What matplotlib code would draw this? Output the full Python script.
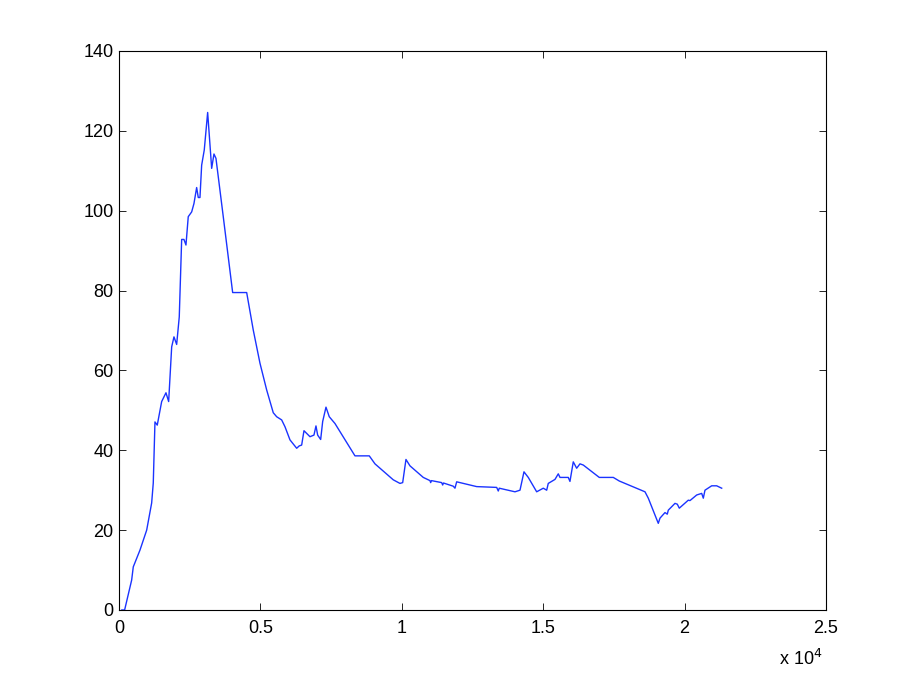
import numpy as np
import matplotlib
matplotlib.use('Agg')
import matplotlib.pyplot as plt
from matplotlib.ticker import FuncFormatter


# values (x in raw units, shown as x 10^4)
xs = [100, 200, 449, 506, 743, 980, 1156, 1213, 1273, 1354, 1510, 1662, 1757,
      1864, 1945, 2040, 2132, 2217, 2298, 2369, 2450, 2571, 2652, 2747, 2804,
      2864, 2924, 3016, 3136, 3278, 3359, 3430, 3688, 4020, 4516, 4749, 4986,
      5223, 5456, 5576, 5753, 5870, 6047, 6284, 6375, 6460, 6542, 6754, 6895,
      6966, 7026, 7132, 7203, 7320, 7436, 7638, 8345, 8851, 9052, 9699, 9936,
      10032, 10148, 10290, 10760, 10997, 11022, 11050, 11411, 11446, 11475,
      11821, 11881, 11941, 12648, 13356, 13412, 13448, 14003, 14180, 14321,
      14473, 14770, 15004, 15124, 15180, 15417, 15534, 15594, 15887, 15947,
      16064, 16184, 16301, 16418, 16984, 17479, 17691, 18600, 18717, 19070,
      19130, 19307, 19388, 19424, 19660, 19742, 19813, 20131, 20191, 20428,
      20605, 20662, 20721, 20958, 21135, 21312]
ys = [0.0, 0.0, 7.5, 10.8, 15.0, 20.0, 26.8, 31.8, 47.1, 46.3, 52.2, 54.4, 52.2,
      65.9, 68.4, 66.5, 73.4, 92.8, 92.8, 91.4, 98.5, 99.7, 101.8, 105.8, 103.3,
      103.3, 111.4, 115.2, 124.6, 110.6, 114.2, 113.1, 98.5, 79.5, 79.5, 70.1,
      61.8, 55.1, 49.4, 48.4, 47.6, 45.9, 42.6, 40.5, 41.1, 41.3, 44.9, 43.4,
      43.8, 46.1, 43.8, 42.7, 47.2, 50.8, 48.4, 46.7, 38.6, 38.6, 36.6, 32.6,
      31.7, 31.9, 37.7, 36.1, 33.2, 32.4, 31.9, 32.4, 31.9, 31.3, 31.8, 31.0,
      30.5, 32.1, 30.9, 30.7, 29.8, 30.5, 29.6, 30.0, 34.6, 33.2, 29.6, 30.5,
      30.0, 31.7, 32.7, 34.1, 33.2, 33.2, 32.2, 37.1, 35.5, 36.6, 36.3, 33.2,
      33.2, 32.3, 29.6, 28.0, 21.7, 23.0, 24.4, 24.0, 25.0, 26.7, 26.5, 25.5,
      27.5, 27.4, 28.8, 29.2, 28.0, 30.0, 31.1, 31.1, 30.5]

plt.rcParams['font.family'] = ['Liberation Sans', 'DejaVu Sans']

fig = plt.figure(figsize=(9.13, 6.87), dpi=100)
ax = fig.add_axes([0.1303, 0.1121, 0.7744, 0.8137])

ax.plot(xs, ys, color='#1a33ff', linewidth=1.0)

ax.set_xlim(0, 25000)
ax.set_ylim(0, 140)
ax.set_xticks(np.arange(0, 25001, 5000))
ax.set_yticks(np.arange(0, 141, 20))
ax.xaxis.set_major_formatter(FuncFormatter(lambda v, p: '%g' % (v / 1e4)))
ax.tick_params(direction='in', top=True, right=True, length=5,
               width=0.6, labelsize=13)
ax.tick_params(axis='x', pad=7)
ax.tick_params(axis='y', pad=4)
for s in ax.spines.values():
    s.set_linewidth(0.8)

fig.text(0.853, 0.026, r'x 10$^{4}$', fontsize=13, ha='left', va='bottom')

fig.savefig('out.png', dpi=100)
